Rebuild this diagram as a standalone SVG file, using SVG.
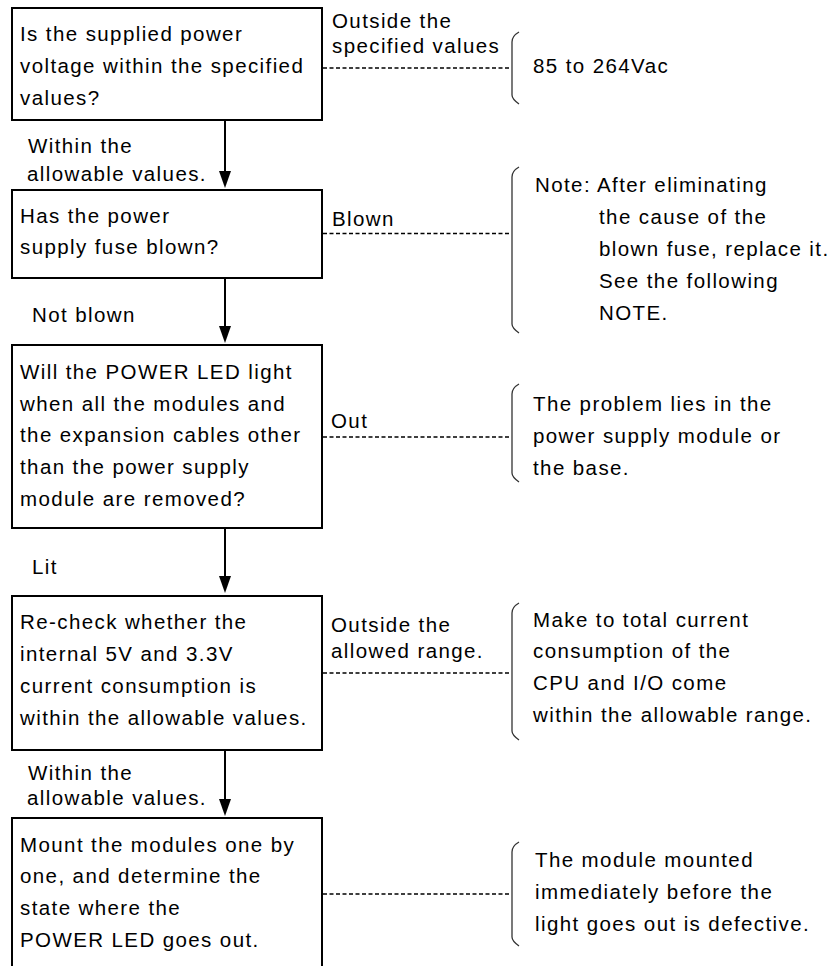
<svg xmlns="http://www.w3.org/2000/svg" width="834" height="966" viewBox="0 0 834 966">
<style>
text{font-family:"Liberation Sans",Arial,sans-serif;font-size:20.5px;letter-spacing:1.4px;fill:#000}
.box{fill:#fff;stroke:#000;stroke-width:2}
.flow{stroke:#000;stroke-width:2;fill:none}
.dash{stroke:#000;stroke-width:1.4;stroke-dasharray:4 2.5;fill:none}
.brace{stroke:#333;stroke-width:1.3;fill:none}
</style>
<rect width="834" height="966" fill="#fff"/>

<g id="connectors">
<line class="flow" x1="225" y1="121" x2="225" y2="171"/>
<path d="M219 171 L231 171 L225 188 Z" fill="#000"/>
<line class="flow" x1="225" y1="278" x2="225" y2="326"/>
<path d="M219 326 L231 326 L225 343 Z" fill="#000"/>
<line class="flow" x1="225" y1="528" x2="225" y2="576"/>
<path d="M219 576 L231 576 L225 593 Z" fill="#000"/>
<line class="flow" x1="225" y1="750" x2="225" y2="799"/>
<path d="M219 799 L231 799 L225 816 Z" fill="#000"/>
<line class="dash" x1="323" y1="68" x2="511" y2="68"/>
<line class="dash" x1="323" y1="233.5" x2="511" y2="233.5"/>
<line class="dash" x1="323" y1="437" x2="511" y2="437"/>
<line class="dash" x1="323" y1="673" x2="511" y2="673"/>
<line class="dash" x1="323" y1="894" x2="511" y2="894"/>
<text x="28" y="153">Within the</text>
<text x="27" y="181">allowable values.</text>
<text x="32" y="322">Not blown</text>
<text x="32" y="574">Lit</text>
<text x="28" y="780">Within the</text>
<text x="27" y="805">allowable values.</text>
<text x="332" y="28">Outside the</text>
<text x="332" y="53">specified values</text>
<text x="332" y="226">Blown</text>
<text x="331" y="428">Out</text>
<text x="331" y="632">Outside the</text>
<text x="331" y="658">allowed range.</text>
</g>

<g id="n1">
<rect class="box" x="12" y="8" width="310" height="112"/>
<text x="20" y="41">Is the supplied power</text>
<text x="20" y="73">voltage within the specified</text>
<text x="20" y="105">values?</text>
</g>
<g id="r1">
<path class="brace" d="M519 32 Q512 36 512 42 L512 95 Q512 99 519 104"/>
<text x="533" y="73">85 to 264Vac</text>
</g>

<g id="n2">
<rect class="box" x="12" y="190" width="310" height="88"/>
<text x="20" y="223">Has the power</text>
<text x="20" y="254">supply fuse blown?</text>
</g>
<g id="r2">
<path class="brace" d="M519 167 Q512 171 512 177 L512 324 Q512 328 519 333"/>
<text x="535" y="192">Note: After eliminating</text>
<text x="599" y="224">the cause of the</text>
<text x="599" y="256">blown fuse, replace it.</text>
<text x="599" y="288">See the following</text>
<text x="599" y="320">NOTE.</text>
</g>

<g id="n3">
<rect class="box" x="12" y="345" width="310" height="183"/>
<text x="20" y="379">Will the POWER LED light</text>
<text x="20" y="411">when all the modules and</text>
<text x="20" y="442">the expansion cables other</text>
<text x="20" y="474">than the power supply</text>
<text x="20" y="506">module are removed?</text>
</g>
<g id="r3">
<path class="brace" d="M519 384 Q512 388 512 394 L512 473 Q512 477 519 482"/>
<text x="533" y="411">The problem lies in the</text>
<text x="533" y="443">power supply module or</text>
<text x="533" y="475">the base.</text>
</g>

<g id="n4">
<rect class="box" x="12" y="596" width="310" height="154"/>
<text x="20" y="629">Re-check whether the</text>
<text x="20" y="661">internal 5V and 3.3V</text>
<text x="20" y="693">current consumption is</text>
<text x="20" y="725">within the allowable values.</text>
</g>
<g id="r4">
<path class="brace" d="M519 603 Q512 607 512 613 L512 731 Q512 735 519 740"/>
<text x="533" y="627">Make to total current</text>
<text x="533" y="658">consumption of the</text>
<text x="533" y="690">CPU and I/O come</text>
<text x="533" y="722">within the allowable range.</text>
</g>

<g id="n5">
<rect class="box" x="12" y="818" width="310" height="170"/>
<text x="20" y="852">Mount the modules one by</text>
<text x="20" y="883">one, and determine the</text>
<text x="20" y="915">state where the</text>
<text x="20" y="947">POWER LED goes out.</text>
</g>
<g id="r5">
<path class="brace" d="M519 842 Q512 846 512 852 L512 937 Q512 941 519 946"/>
<text x="535" y="867">The module mounted</text>
<text x="535" y="899">immediately before the</text>
<text x="535" y="931">light goes out is defective.</text>
</g>
</svg>
